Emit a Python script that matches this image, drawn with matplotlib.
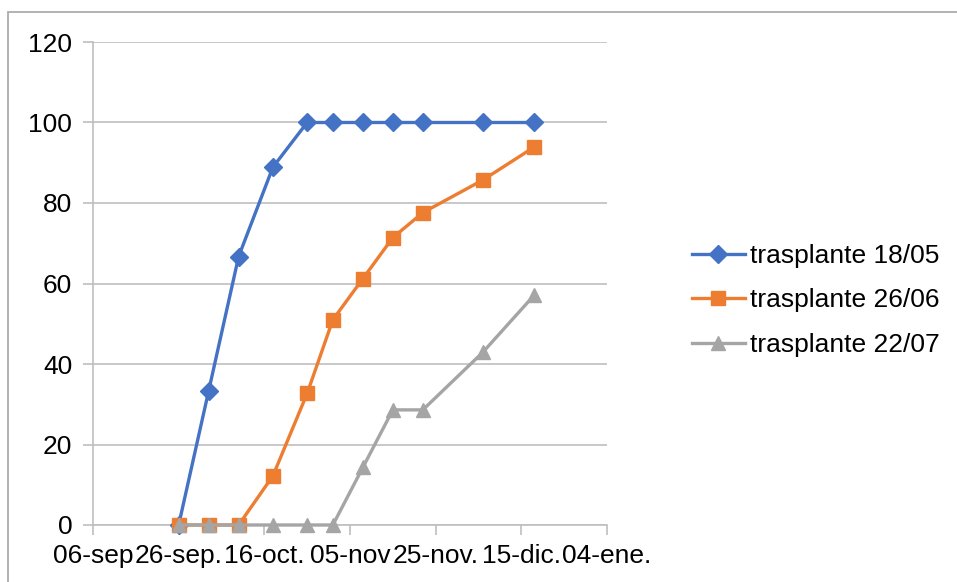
import matplotlib
matplotlib.use("Agg")
import matplotlib.pyplot as plt
import matplotlib.dates as mdates
import numpy as np
from datetime import date
from matplotlib.patches import Rectangle

plt.rcParams['font.family'] = ['Liberation Sans', 'DejaVu Sans']

# fechas de muestreo
fechas = [date(2019, 9, 26), date(2019, 10, 3), date(2019, 10, 10), date(2019, 10, 18),
          date(2019, 10, 26), date(2019, 11, 1), date(2019, 11, 8), date(2019, 11, 15),
          date(2019, 11, 22), date(2019, 12, 6), date(2019, 12, 18)]

tr_1805 = [0, 33.3, 66.7, 88.9, 100, 100, 100, 100, 100, 100, 100]
tr_2606 = [0, 0, 0, 12.2, 32.7, 51.0, 61.2, 71.4, 77.6, 85.7, 93.9]
tr_2207 = [0, 0, 0, 0, 0, 0, 14.3, 28.6, 28.6, 42.9, 57.1]

series_names = ['trasplante 18/05', 'trasplante 26/06', 'trasplante 22/07']

tick_dates = [date(2019, 9, 6), date(2019, 9, 26), date(2019, 10, 16), date(2019, 11, 5),
              date(2019, 11, 25), date(2019, 12, 15), date(2020, 1, 4)]
tick_labels = ['06-sep', '26-sep.', '16-oct.', '05-nov', '25-nov.', '15-dic.', '04-ene.']

fig = plt.figure(figsize=(9.57, 5.82), dpi=100)
ax = fig.add_axes([93 / 957, 57 / 582, 514 / 957, 483 / 582])

# borde del grafico
fig.patches.append(Rectangle((8 / 957, -0.5), 2, (582 - 12) / 582 + 0.5,
                             transform=fig.transFigure, fill=False,
                             edgecolor='#a6a6a6', linewidth=1.2, zorder=0))

ax.plot(fechas, tr_1805, color='#4472C4', lw=2.4, marker='D', ms=9, label=series_names[0],
        zorder=3, clip_on=False)
ax.plot(fechas, tr_2606, color='#ED7D31', lw=2.4, marker='s', ms=10, label=series_names[1],
        zorder=4, clip_on=False)
ax.plot(fechas, tr_2207, color='#A5A5A5', lw=2.4, marker='^', ms=10.5, label=series_names[2],
        zorder=5, clip_on=False)

ax.set_xlim(mdates.date2num(tick_dates[0]), mdates.date2num(tick_dates[-1]))
ax.set_ylim(0, 120)
ax.set_xticks(mdates.date2num(tick_dates))
ax.set_xticklabels(tick_labels)
ax.set_yticks(np.arange(0, 121, 20))

ax.grid(axis='y', color='#bfbfbf', lw=1.2)
ax.set_axisbelow(True)
for s in ['top', 'right']:
    ax.spines[s].set_visible(False)
for s in ['left', 'bottom']:
    ax.spines[s].set_color('#bfbfbf')
    ax.spines[s].set_linewidth(1.2)
ax.tick_params(axis='both', colors='#bfbfbf', labelcolor='black', labelsize=19,
               length=7, width=1.2)
ax.tick_params(axis='y', pad=8)
ax.tick_params(axis='x', pad=7)

ax.legend(loc='center left', bbox_to_anchor=(692 / 957, (582 - 300.5) / 582),
          bbox_transform=fig.transFigure, frameon=False, fontsize=19,
          handlelength=2.0, handletextpad=0.2, labelspacing=0.78,
          borderpad=0, borderaxespad=0)

fig.savefig('out.png', dpi=100)
